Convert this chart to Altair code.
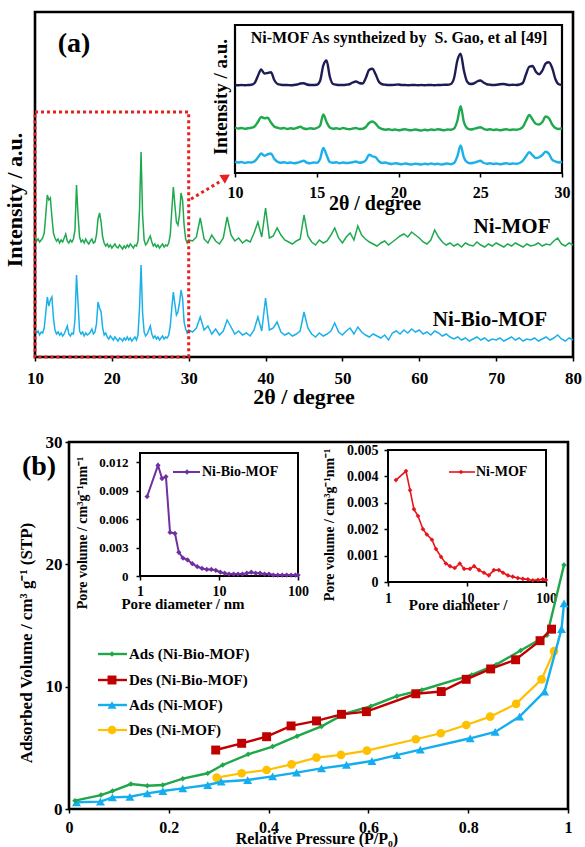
import altair as alt
import numpy as np
import pandas as pd

W, H = 585, 847
SERIF = "Liberation Serif"

# ---------------- XRD patterns (intensity, a.u.) ----------------
# fine sampling: 2θ = 10.0 ... 30.0 every 0.2°, coarse: 30.5 ... 80.0 every 0.5°
FINE_START, FINE_STEP = 10.0, 0.2
COARSE_START, COARSE_STEP = 30.5, 0.5

ni_mof_fine = [18, 14, 16, 13, 15, 17, 22, 40, 60, 55,
               57, 38, 22, 17, 14, 16, 12, 15, 13, 17,
               21, 14, 12, 15, 13, 16, 25, 70, 40, 18,
               13, 15, 12, 16, 13, 11, 14, 16, 12, 13,
               20, 36, 42, 33, 18, 12, 9, 11, 8, 10,
               7, 9, 11, 8, 7, 10, 8, 6, 9, 7,
               10, 8, 11, 9, 7, 10, 9, 14, 45, 103,
               40, 15, 10, 12, 16, 19, 13, 9, 11, 8,
               10, 7, 9, 11, 8, 10, 9, 12, 20, 45,
               68, 50, 33, 30, 40, 62, 55, 30, 16, 12,
               15]
ni_mof_coarse = [14, 18, 37, 16, 12, 20, 14, 11, 17, 38,
                 20, 14, 17, 12, 15, 13, 22, 33, 18, 47,
                 17, 19, 27, 20, 15, 13, 11, 14, 16, 40,
                 19, 13, 10, 15, 12, 14, 20, 27, 17, 12,
                 18, 22, 15, 29, 20, 16, 13, 11, 9, 12,
                 14, 10, 13, 16, 19, 21, 18, 23, 20, 17,
                 13, 11, 15, 25, 18, 13, 10, 12, 9, 11,
                 8, 12, 10, 9, 13, 10, 8, 11, 9, 12,
                 10, 8, 11, 9, 12, 10, 8, 11, 9, 10,
                 12, 9, 11, 10, 14, 17, 11, 9, 12, 10]
ni_bio_fine = [18, 15, 17, 13, 16, 15, 20, 35, 51, 42,
               48, 51, 30, 18, 14, 16, 13, 15, 12, 14,
               18, 22, 14, 12, 15, 14, 28, 73, 45, 17,
               14, 16, 12, 15, 13, 14, 16, 19, 14, 16,
               24, 46, 40, 36, 20, 13, 15, 11, 9, 12,
               10, 8, 11, 9, 7, 10, 9, 7, 10, 8,
               11, 8, 10, 7, 9, 11, 8, 13, 40, 83,
               35, 16, 12, 14, 18, 22, 14, 10, 12, 9,
               11, 8, 10, 12, 9, 11, 10, 13, 22, 40,
               56, 44, 33, 36, 45, 58, 50, 26, 19, 15,
               18]
ni_bio_coarse = [16, 20, 31, 18, 22, 14, 19, 13, 17, 28,
                 21, 14, 17, 13, 15, 12, 18, 31, 17, 50,
                 18, 20, 26, 16, 13, 15, 12, 14, 17, 36,
                 20, 14, 11, 15, 12, 14, 17, 25, 16, 13,
                 17, 20, 14, 21, 16, 13, 11, 14, 12, 10,
                 13, 8, 15, 17, 14, 18, 15, 19, 16, 18,
                 14, 16, 13, 17, 15, 12, 14, 11, 9, 11,
                 8, 10, 7, 9, 11, 8, 10, 7, 9, 8,
                 10, 7, 9, 11, 8, 10, 7, 9, 8, 10,
                 7, 9, 11, 8, 10, 13, 9, 7, 10, 8]
# Ni-MOF as synthesized by S. Gao et al. [49]
gao_ref_fine = [2, 1, 2, 1, 2, 3, 10, 38, 64, 48,
                50, 53, 22, 6, 3, 2, 2, 1, 2, 4,
                8, 9, 4, 2, 2, 3, 18, 80, 100, 35,
                6, 3, 2, 2, 3, 5, 12, 16, 10, 8,
                30, 62, 67, 45, 15, 5, 3, 2, 2, 3,
                4, 2, 2, 1, 2, 2, 1, 2, 1, 2,
                2, 1, 2, 2, 3, 3, 6, 30, 100, 127,
                60, 15, 6, 8, 16, 20, 12, 5, 3, 2,
                3, 5, 6, 4, 2, 3, 2, 4, 10, 45,
                75, 78, 55, 45, 60, 88, 93, 70, 25, 5,
                2]

# vertical stacking offsets of the patterns
MAIN_OFFSET = {"Ni-MOF": 102, "Ni-Bio-MOF": 9}
INSET_OFFSET = {"ref": 350, "Ni-MOF": 164, "Ni-Bio-MOF": 27}

# ---------------- N2 isotherms (cm3 g-1 STP) ----------------
p_ads_bio = [0.012, 0.064, 0.087, 0.124, 0.157, 0.188, 0.228, 0.278, 0.308, 0.359,
             0.408, 0.457, 0.506, 0.553, 0.605, 0.657, 0.707, 0.807, 0.856, 0.905,
             0.958, 0.992]
v_ads_bio = [0.68, 1.14, 1.47, 2.04, 1.9, 1.96, 2.48, 2.92, 3.6, 4.47,
             5.1, 5.95, 6.75, 7.8, 8.4, 9.22, 9.73, 10.96, 11.8, 12.95,
             14.2, 19.95]
p_des_bio = [0.294, 0.346, 0.396, 0.445, 0.496, 0.546, 0.596, 0.695, 0.746, 0.796,
             0.845, 0.895, 0.944, 0.967]
v_des_bio = [4.82, 5.37, 5.91, 6.79, 7.2, 7.74, 7.96, 9.42, 9.6, 10.6,
             11.45, 12.2, 13.76, 14.7]
p_ads_mof = [0.015, 0.063, 0.087, 0.122, 0.157, 0.188, 0.228, 0.278, 0.305, 0.358,
             0.408, 0.456, 0.506, 0.556, 0.607, 0.657, 0.704, 0.804, 0.854, 0.903,
             0.953, 0.987, 0.992]
v_ads_mof = [0.55, 0.6, 0.95, 1.0, 1.28, 1.47, 1.69, 1.96, 2.23, 2.37,
             2.67, 2.97, 3.32, 3.6, 3.92, 4.4, 4.85, 5.78, 6.3, 7.55,
             9.6, 14.7, 16.8]
p_des_mof = [0.296, 0.346, 0.396, 0.446, 0.496, 0.545, 0.597, 0.695, 0.745, 0.796,
             0.844, 0.896, 0.947, 0.972]
v_des_mof = [2.56, 2.92, 3.19, 3.65, 4.2, 4.42, 4.77, 5.7, 6.19, 6.87,
             7.55, 8.59, 10.6, 12.9]

# ---------------- BJH pore size distributions ----------------
bio_pore_d = [1.23, 1.69, 1.9, 2.13, 2.4, 2.77, 3.1, 3.5, 4.0, 4.6,
              5.3, 6.1, 7.0, 8.0, 9.1, 10.4, 11.8, 13.4, 15.3, 17.4,
              19.8, 22.5, 25.6, 29.1, 33.1, 37.7, 42.9, 48.8, 55.5, 63.1,
              71.8, 81.7, 92.9, 100.0]
bio_pore_v = [0.0084, 0.0117, 0.0103, 0.0105, 0.0046, 0.0045, 0.0025, 0.0019, 0.0017, 0.0013,
              0.0010, 0.0008, 0.0007, 0.0007, 0.0006, 0.0004, 0.0003, 0.0002, 0.0002, 0.0002,
              0.0002, 0.0003, 0.0004, 0.0003, 0.0003, 0.0002, 0.0002, 0.0001, 0.0001, 0.0001,
              0.0001, 0.0001, 0.0001, 0.0001]
mof_pore_d = [1.26, 1.69, 1.9, 2.13, 2.4, 2.77, 3.1, 3.6, 4.05, 4.7,
              5.4, 6.1, 7.0, 8.1, 9.2, 10.9, 12.3, 14.2, 16.4, 18.9,
              21.9, 25.3, 28.6, 33.0, 38.0, 44.0, 51.0, 59.0, 68.0, 79.0,
              91.0, 100.0]
mof_pore_v = [0.00386, 0.0042, 0.00348, 0.00276, 0.0025, 0.0020, 0.0018, 0.0016, 0.00125, 0.00095,
              0.0007, 0.0006, 0.00053, 0.0007, 0.0005, 0.0005, 0.0006, 0.00045, 0.00035, 0.00025,
              0.00045, 0.00045, 0.00035, 0.00025, 0.0002, 0.00015, 0.00012, 0.0001, 0.00006, 0.00008,
              0.0001, 0.00008]

# ---------------- colours ----------------
XRD_GREEN = "#1fa94f"
XRD_BLUE = "#1cb0ea"
NAVY = "#1d1d55"
DOT_RED = "#e82020"
ISO_GREEN = "#1fa74a"
ISO_RED = "#c00000"
ISO_BLUE = "#14aeef"
ISO_YELLOW = "#ffc000"
PURPLE = "#7030a0"
PSD_RED = "#e8141b"


def grid(start, step, n):
    return np.round(start + step * np.arange(n), 2)


def lin(dom, rng):
    return alt.Scale(type="linear", domain=dom, range=rng, nice=False, zero=False)


def logs(dom, rng):
    return alt.Scale(type="log", domain=dom, range=rng, nice=False)


# panel (a) main, inset; panel (b) isotherm and two PSD insets
XA, YA = lin([10, 80], [35, 573]), lin([0, 345], [357, 12])
XI, YI = lin([10, 30], [235, 562]), lin([0, 592], [173, 25])
XB, YB = lin([0, 1], [69, 568]), lin([0, 30], [809, 442])
XP1, YP1 = logs([1, 100], [140, 298]), lin([0, 0.013], [576, 453])
XP2, YP2 = logs([1, 100], [388, 546]), lin([0, 0.005], [582, 450])

ONE = pd.DataFrame({"k": [0]})


def axis(orient, offset, values, size, pad, fmt=None, expr=None):
    kw = dict(orient=orient, offset=offset, values=values, title=None, grid=False,
              domain=False, tickSize=4, tickWidth=1.5, tickColor="black",
              labelFont=SERIF, labelFontWeight="bold", labelFontSize=size,
              labelColor="black", labelPadding=pad, labelOverlap=False, labelFlush=False)
    if fmt:
        kw["format"] = fmt
    if expr:
        kw["labelExpr"] = expr
    return alt.Axis(**kw)


def box(xs, ys, xdom, ydom, color="black", sw=2.0, dash=None, xax=None, yax=None):
    df = pd.DataFrame({"a": [xdom[0]], "b": [xdom[1]], "c": [ydom[0]], "d": [ydom[1]]})
    kw = dict(fillOpacity=0, stroke=color, strokeWidth=sw)
    if dash:
        kw["strokeDash"] = dash
    return alt.Chart(df).mark_rect(**kw).encode(
        x=alt.X("a:Q", scale=xs, axis=xax), x2="b:Q",
        y=alt.Y("c:Q", scale=ys, axis=yax), y2="d:Q")


def line(x, y, xs, ys, color, width, interp=None):
    df = pd.DataFrame({"x": x, "y": y})
    kw = dict(color=color, strokeWidth=width)
    if interp:
        kw["interpolate"] = interp
    return alt.Chart(df).mark_line(**kw).encode(
        x=alt.X("x:Q", scale=xs, axis=None), y=alt.Y("y:Q", scale=ys, axis=None))


def dots(x, y, xs, ys, color, shape, size):
    df = pd.DataFrame({"x": x, "y": y})
    return alt.Chart(df).mark_point(shape=shape, filled=True, size=size, color=color, opacity=1).encode(
        x=alt.X("x:Q", scale=xs, axis=None), y=alt.Y("y:Q", scale=ys, axis=None))


def txt(s, x, y, size, angle=0, align="center"):
    kw = dict(text=s, font=SERIF, fontWeight="bold", fontSize=size, align=align,
              baseline="middle", color="black")
    if angle:
        kw["angle"] = angle
    return alt.Chart(ONE).mark_text(**kw).encode(x=alt.value(x), y=alt.value(y))


def legend_item(x0, x1, xm, y, color, width, shape, size, label, tx, fsize):
    seg = alt.Chart(ONE).mark_rule(color=color, strokeWidth=width).encode(
        x=alt.value(x0), x2=alt.value(x1), y=alt.value(y))
    mk = alt.Chart(ONE).mark_point(shape=shape, filled=True, size=size, color=color, opacity=1).encode(
        x=alt.value(xm), y=alt.value(y))
    return [seg, mk, txt(label, tx, y, fsize, align="left")]


layers = []

# ======================= panel (a): XRD =======================
t_fine = grid(FINE_START, FINE_STEP, len(ni_mof_fine))
t_coarse = grid(COARSE_START, COARSE_STEP, len(ni_mof_coarse))
t_all = np.concatenate([t_fine, t_coarse])

layers.append(box(XA, YA, [10, 80], [0, 345], sw=2.6,
                  xax=axis("bottom", 357 - H, list(range(10, 81, 10)), 17, 9)))

mof_all = np.array(ni_mof_fine + ni_mof_coarse) + MAIN_OFFSET["Ni-MOF"]
bio_all = np.array(ni_bio_fine + ni_bio_coarse) + MAIN_OFFSET["Ni-Bio-MOF"]
layers.append(line(t_all, mof_all, XA, YA, XRD_GREEN, 1.5))
layers.append(line(grid(FINE_START, FINE_STEP, len(ni_bio_fine)).tolist() + t_coarse.tolist(),
                   bio_all, XA, YA, XRD_BLUE, 1.5))

# inset: 10–30° zoom with the reference pattern
layers.append(box(XI, YI, [10, 30], [0, 592], sw=2.2,
                  xax=axis("bottom", 173 - H, [10, 15, 20, 25, 30], 16, 7)))
layers.append(line(grid(FINE_START, FINE_STEP, len(gao_ref_fine)),
                   np.array(gao_ref_fine) + INSET_OFFSET["ref"], XI, YI, NAVY, 2.4, "monotone"))
layers.append(line(t_fine, np.array(ni_mof_fine) + INSET_OFFSET["Ni-MOF"], XI, YI, XRD_GREEN, 2.4, "monotone"))
layers.append(line(grid(FINE_START, FINE_STEP, len(ni_bio_fine)),
                   np.array(ni_bio_fine) + INSET_OFFSET["Ni-Bio-MOF"], XI, YI, XRD_BLUE, 2.4, "monotone"))

# dotted zoom box and arrow
layers.append(box(XA, YA, [10, 30], [0, 245], color=DOT_RED, sw=3, dash=[3, 3]))
layers.append(alt.Chart(ONE).mark_rule(color=DOT_RED, strokeWidth=3, strokeDash=[3, 3]).encode(
    x=alt.value(191), y=alt.value(199), x2=alt.value(221), y2=alt.value(181)))
layers.append(alt.Chart(ONE).mark_point(shape="triangle-up", filled=True, size=110, color=DOT_RED,
                                        opacity=1, angle=58).encode(x=alt.value(226), y=alt.value(177)))

layers += [
    txt("(a)", 74, 44, 28),
    txt("Ni-MOF As syntheized by\u00a0 S. Gao, et al [49]", 399, 38, 16),
    txt("2θ / degree", 375, 204, 20),
    txt("Intensity / a.u.", 221, 97, 19, angle=270),
    txt("2θ / degree", 304, 397, 22),
    txt("Intensity / a.u.", 15, 200, 22, angle=270),
    txt("Ni-MOF", 512, 227, 21),
    txt("Ni-Bio-MOF", 490, 320, 21),
]

# ======================= panel (b): isotherms =======================
layers.append(box(XB, YB, [0, 1], [0, 30], sw=2.6,
                  xax=axis("bottom", 809 - H, [0, 0.2, 0.4, 0.6, 0.8, 1], 16, 6, fmt="~g"),
                  yax=axis("left", -69, [0, 10, 20, 30], 17, 3)))

layers.append(line(p_des_mof, v_des_mof, XB, YB, ISO_YELLOW, 2.2))
layers.append(dots(p_des_mof, v_des_mof, XB, YB, ISO_YELLOW, "circle", 75))
layers.append(line(p_ads_mof, v_ads_mof, XB, YB, ISO_BLUE, 2.4))
layers.append(dots(p_ads_mof, v_ads_mof, XB, YB, ISO_BLUE, "triangle-up", 80))
layers.append(line(p_ads_bio, v_ads_bio, XB, YB, ISO_GREEN, 2.4))
layers.append(dots(p_ads_bio, v_ads_bio, XB, YB, ISO_GREEN, "diamond", 30))
layers.append(line(p_des_bio, v_des_bio, XB, YB, ISO_RED, 2.4))
layers.append(dots(p_des_bio, v_des_bio, XB, YB, ISO_RED, "square", 80))

layers += legend_item(98, 127, 112, 654, ISO_GREEN, 2.4, "diamond", 30, "Ads (Ni-Bio-MOF)", 129, 15)
layers += legend_item(98, 127, 112, 680, ISO_RED, 2.4, "square", 80, "Des (Ni-Bio-MOF)", 129, 15)
layers += legend_item(98, 127, 112, 705, ISO_BLUE, 2.4, "triangle-up", 80, "Ads (Ni-MOF)", 129, 15)
layers += legend_item(98, 127, 112, 730, ISO_YELLOW, 2.2, "circle", 75, "Des (Ni-MOF)", 129, 15)

layers += [
    txt("(b)", 39, 467, 28),
    txt("Relative Pressure (P/P\u2080)", 317, 839, 16),
    txt("Adsorbed Volume / cm\u00b3 g\u207b\u00b9 (STP)", 27, 643, 17, angle=270),
]

# PSD inset: Ni-Bio-MOF
psd_y_expr = "datum.value == 0 ? '0' : format(datum.value, '.3f')"
layers.append(box(XP1, YP1, [1, 100], [0, 0.013], sw=2.0,
                  xax=axis("bottom", 576 - H, [1, 10, 100], 14, 4, fmt="~g"),
                  yax=axis("left", -140, [0, 0.003, 0.006, 0.009, 0.012], 13, 8, expr=psd_y_expr)))
layers.append(line(bio_pore_d, bio_pore_v, XP1, YP1, PURPLE, 2.0))
layers.append(dots(bio_pore_d, bio_pore_v, XP1, YP1, PURPLE, "diamond", 28))
layers += legend_item(173, 200, 187, 472, PURPLE, 2.0, "diamond", 28, "Ni-Bio-MOF", 202, 14)
layers += [
    txt("Pore diameter / nm", 183, 604, 15),
    txt("Pore volume / cm\u00b3g\u207b\u00b9nm\u207b\u00b9", 83, 533, 14, angle=270),
]

# PSD inset: Ni-MOF
layers.append(box(XP2, YP2, [1, 100], [0, 0.005], sw=2.0,
                  xax=axis("bottom", 582 - H, [1, 10, 100], 14, 5, fmt="~g"),
                  yax=axis("left", -388, [0, 0.001, 0.002, 0.003, 0.004, 0.005], 14, 6, expr=psd_y_expr)))
layers.append(line(mof_pore_d, mof_pore_v, XP2, YP2, PSD_RED, 1.6))
layers.append(dots(mof_pore_d, mof_pore_v, XP2, YP2, PSD_RED, "diamond", 22))
layers += legend_item(449, 475, 461, 472, PSD_RED, 1.6, "diamond", 22, "Ni-MOF", 476, 14)
layers += [
    txt("Pore diameter /", 458, 605, 15),
    txt("Pore volume / cm\u00b3g\u207b\u00b9nm\u207b\u00b9", 330, 525, 14, angle=270),
]

chart = (
    alt.layer(*layers)
    .resolve_scale(x="independent", y="independent")
    .resolve_axis(x="independent", y="independent")
    .properties(width=W, height=H, autosize=alt.AutoSizeParams(type="none"), padding=0)
    .configure_view(strokeWidth=0)
)

chart.save("out.html", embed_options={"renderer": "svg", "actions": False})
